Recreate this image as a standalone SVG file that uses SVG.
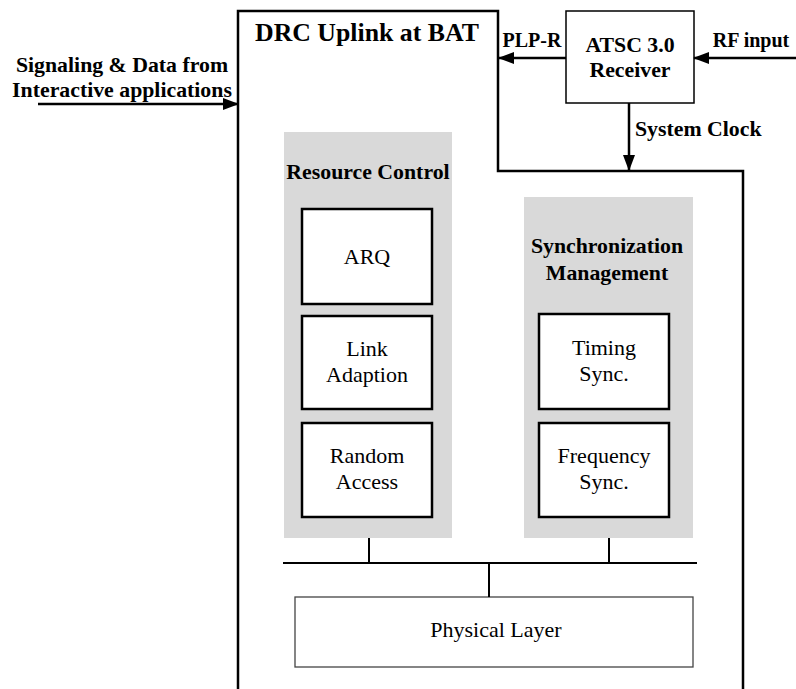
<svg xmlns="http://www.w3.org/2000/svg" width="796" height="689" viewBox="0 0 796 689">
<style>
.b{font-family:"Liberation Serif","Times New Roman",serif;font-weight:bold;font-size:21.8px;fill:#000}
.r{font-family:"Liberation Serif","Times New Roman",serif;font-size:22px;fill:#000}
.box{fill:#fff;stroke:#000;stroke-width:2.5}
.grp{fill:#d9d9d9;stroke:none}
.ln{fill:none;stroke:#000;stroke-width:2.5}
.bus{fill:none;stroke:#000;stroke-width:2}
</style>
<defs>
<marker id="ah" markerWidth="16" markerHeight="12" refX="15" refY="6" orient="auto" markerUnits="userSpaceOnUse">
<path d="M0,0 L16,6 L0,12 Z" fill="#000"/>
</marker>
</defs>
<rect width="796" height="689" fill="#fff"/>
<g id="frame">
<path class="ln" d="M238,689 V11 H498 V171 H743 V689"/>
<text class="b" x="255" y="41" style="font-size:25.8px">DRC Uplink at BAT</text>
</g>
<g id="resource-control">
<rect class="grp" x="284" y="132" width="168" height="406"/>
<text class="b" x="368" y="179" text-anchor="middle">Resource Control</text>
</g>
<g id="arq">
<rect class="box" x="302" y="209" width="130" height="95"/>
<text class="r" x="367" y="264" text-anchor="middle">ARQ</text>
</g>
<g id="link-adaption">
<rect class="box" x="302" y="316" width="130" height="93"/>
<text class="r" x="367" y="356" text-anchor="middle">Link</text>
<text class="r" x="367" y="382" text-anchor="middle">Adaption</text>
</g>
<g id="random-access">
<rect class="box" x="302" y="423" width="130" height="94"/>
<text class="r" x="367" y="463" text-anchor="middle">Random</text>
<text class="r" x="367" y="489" text-anchor="middle">Access</text>
</g>
<g id="sync-management">
<rect class="grp" x="524" y="197" width="169" height="341"/>
<text class="b" x="607" y="253" text-anchor="middle">Synchronization</text>
<text class="b" x="607" y="280" text-anchor="middle">Management</text>
</g>
<g id="timing-sync">
<rect class="box" x="539" y="314" width="130" height="95"/>
<text class="r" x="604" y="355" text-anchor="middle">Timing</text>
<text class="r" x="604" y="381" text-anchor="middle">Sync.</text>
</g>
<g id="frequency-sync">
<rect class="box" x="539" y="423" width="130" height="94"/>
<text class="r" x="604" y="463" text-anchor="middle">Frequency</text>
<text class="r" x="604" y="489" text-anchor="middle">Sync.</text>
</g>
<g id="physical-layer">
<rect x="295" y="597" width="398" height="70" fill="#fff" stroke="#444" stroke-width="1.3"/>
<text class="r" x="496" y="637" text-anchor="middle">Physical Layer</text>
</g>
<g id="atsc-receiver">
<rect x="566" y="11" width="128" height="92" fill="#fff" stroke="#000" stroke-width="1.5"/>
<text class="b" x="630" y="52" text-anchor="middle">ATSC 3.0</text>
<text class="b" x="630" y="77" text-anchor="middle">Receiver</text>
</g>
<g id="connectors">
<line class="ln" x1="38" y1="104" x2="238" y2="104" marker-end="url(#ah)"/>
<line class="ln" x1="566" y1="58" x2="499" y2="58" marker-end="url(#ah)"/>
<line class="ln" x1="796" y1="58" x2="694" y2="58" marker-end="url(#ah)"/>
<line class="ln" x1="629" y1="103" x2="629" y2="170" marker-end="url(#ah)"/>
<path class="bus" d="M283,563 H697 M369,538 V563 M609,538 V563 M489,563 V597"/>
</g>
<g id="labels">
<text class="b" x="122" y="72" text-anchor="middle">Signaling &amp; Data from</text>
<text class="b" x="122" y="97" text-anchor="middle">Interactive applications</text>
<text class="b" x="532" y="47" text-anchor="middle" style="font-size:20px">PLP-R</text>
<text class="b" x="751" y="47" text-anchor="middle" style="font-size:20px">RF input</text>
<text class="b" x="635" y="136">System Clock</text>
</g>
</svg>
